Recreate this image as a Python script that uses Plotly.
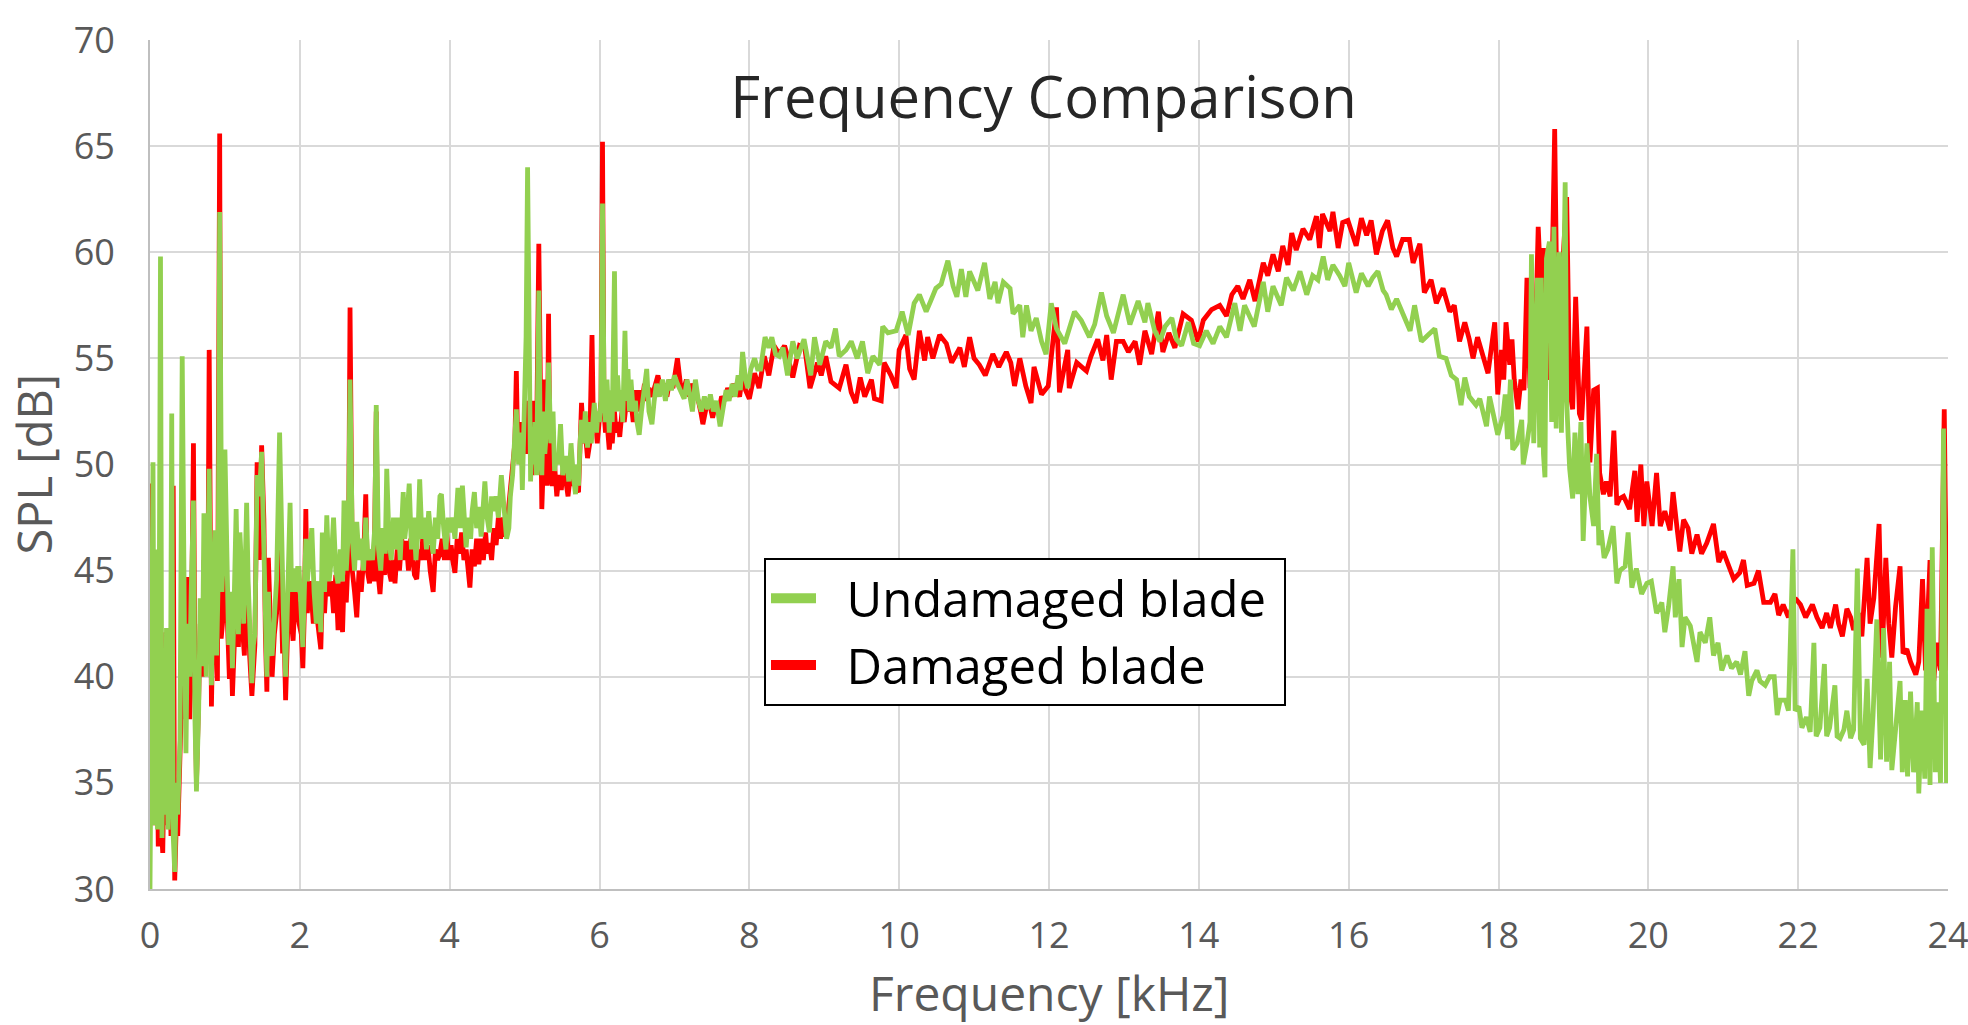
import plotly.graph_objects as go

# ---------------- data: (frequency kHz, SPL dB) ----------------
undamaged_0_2 = [
    (0.00, 30.0), (0.02, 44.0), (0.04, 50.1), (0.06, 33.0), (0.08, 46.0), (0.10, 32.8), (0.12, 40.0),
    (0.14, 59.8), (0.16, 32.4), (0.18, 41.0), (0.20, 33.5), (0.22, 42.3), (0.24, 32.8), (0.27, 36.0),
    (0.29, 52.4), (0.31, 32.5), (0.33, 30.8), (0.35, 35.0), (0.37, 33.5), (0.40, 37.0), (0.43, 55.1),
    (0.46, 42.0), (0.48, 36.4), (0.50, 42.5), (0.53, 40.0), (0.55, 44.0), (0.58, 48.3), (0.60, 38.0),
    (0.62, 34.6), (0.65, 38.5), (0.67, 43.7), (0.70, 40.5), (0.72, 47.7), (0.75, 40.0), (0.77, 44.0),
    (0.79, 49.8), (0.82, 39.6), (0.84, 44.0), (0.87, 46.9), (0.89, 41.0), (0.91, 44.5), (0.93, 61.9),
    (0.96, 44.0), (0.98, 46.0), (1.00, 50.7), (1.03, 43.8), (1.05, 41.5), (1.08, 44.0), (1.10, 40.4),
    (1.12, 43.0), (1.15, 47.9), (1.18, 42.0), (1.20, 46.8), (1.23, 44.5), (1.25, 42.5), (1.27, 45.0),
    (1.29, 48.2), (1.31, 44.5), (1.33, 42.3), (1.36, 39.7), (1.38, 41.5), (1.40, 42.0), (1.43, 49.5),
    (1.46, 48.5), (1.49, 50.6), (1.52, 46.0), (1.54, 43.0), (1.56, 40.0), (1.58, 44.0), (1.60, 41.4),
    (1.63, 41.0), (1.66, 43.0), (1.69, 44.6), (1.73, 51.5), (1.76, 45.0), (1.78, 43.0), (1.81, 40.0),
    (1.84, 43.5), (1.87, 48.2), (1.89, 44.0), (1.91, 45.1), (1.94, 44.0), (1.97, 45.1), (1.99, 45.1),
]
undamaged_2_5 = [
    (2.02, 43.0), (2.04, 41.4), (2.06, 44.0), (2.08, 46.5), (2.10, 44.5), (2.13, 46.0), (2.16, 47.0),
    (2.19, 44.0), (2.22, 42.5), (2.25, 44.5), (2.28, 42.1), (2.30, 46.8), (2.33, 44.0), (2.36, 47.6),
    (2.39, 44.5), (2.42, 45.5), (2.45, 47.5), (2.48, 45.0), (2.51, 44.4), (2.54, 46.0), (2.57, 44.5),
    (2.59, 48.3), (2.62, 45.0), (2.65, 47.0), (2.67, 54.0), (2.70, 46.5), (2.73, 45.0), (2.76, 47.3),
    (2.79, 45.5), (2.82, 46.5), (2.85, 45.0), (2.88, 47.5), (2.91, 45.5), (2.94, 46.0), (2.97, 45.5),
    (3.00, 47.0), (3.02, 52.8), (3.05, 46.0), (3.08, 45.0), (3.11, 47.0), (3.14, 45.8), (3.16, 49.8),
    (3.19, 46.5), (3.22, 45.5), (3.25, 47.5), (3.28, 46.0), (3.31, 47.5), (3.34, 45.5), (3.38, 48.7),
    (3.40, 46.5), (3.43, 47.5), (3.46, 49.1), (3.49, 46.0), (3.52, 47.5), (3.55, 45.5), (3.58, 47.0),
    (3.60, 49.3), (3.63, 46.5), (3.66, 47.5), (3.69, 46.0), (3.72, 47.8), (3.75, 46.5), (3.78, 45.8),
    (3.81, 47.5), (3.84, 46.5), (3.87, 48.5), (3.89, 48.6), (3.92, 47.0), (3.95, 46.0), (3.98, 47.5),
    (4.01, 46.8), (4.04, 47.5), (4.07, 46.5), (4.11, 48.9), (4.14, 47.0), (4.17, 49.0), (4.20, 47.5),
    (4.22, 46.1), (4.25, 47.5), (4.28, 46.5), (4.30, 47.8), (4.33, 48.7), (4.36, 47.0), (4.39, 48.0),
    (4.42, 46.6), (4.45, 48.0), (4.47, 49.2), (4.50, 47.5), (4.53, 46.8), (4.56, 48.5), (4.59, 47.8),
    (4.62, 48.5), (4.65, 47.5), (4.69, 49.5), (4.72, 48.0), (4.74, 46.8), (4.76, 46.5), (4.79, 47.0),
    (4.81, 48.5), (4.84, 49.5), (4.86, 51.0), (4.89, 52.6), (4.92, 50.0), (4.95, 51.5), (4.97, 48.8),
]
undamaged_5_8 = [
    (5.00, 53.0), (5.02, 56.0), (5.04, 64.0), (5.06, 52.0), (5.08, 49.2), (5.10, 51.5), (5.12, 50.0),
    (5.14, 52.0), (5.16, 49.5), (5.19, 58.2), (5.21, 50.5), (5.23, 49.5), (5.25, 52.5), (5.27, 50.5),
    (5.30, 52.0), (5.32, 54.8), (5.35, 51.0), (5.38, 52.5), (5.40, 49.7), (5.43, 50.5), (5.45, 50.0),
    (5.48, 51.9), (5.51, 49.5), (5.53, 50.0), (5.56, 50.4), (5.59, 49.2), (5.62, 51.0), (5.65, 49.5),
    (5.68, 48.6), (5.70, 50.0), (5.72, 49.0), (5.74, 51.0), (5.76, 52.1), (5.79, 51.0), (5.81, 52.5),
    (5.84, 50.8), (5.86, 52.0), (5.89, 51.0), (5.91, 52.3), (5.93, 52.9), (5.96, 51.5), (5.98, 52.5),
    (6.00, 52.0), (6.02, 53.0), (6.04, 62.3), (6.06, 53.5), (6.08, 52.0), (6.10, 54.0), (6.13, 51.5),
    (6.15, 53.5), (6.17, 52.0), (6.20, 59.1), (6.22, 52.5), (6.24, 54.2), (6.27, 52.5), (6.29, 53.5),
    (6.31, 52.0), (6.34, 56.3), (6.36, 53.0), (6.38, 54.5), (6.40, 52.5), (6.42, 54.0), (6.45, 52.5),
    (6.48, 53.0), (6.50, 52.0), (6.53, 51.4), (6.56, 52.5), (6.60, 53.5), (6.63, 54.5), (6.66, 52.5),
    (6.70, 51.9), (6.73, 53.0), (6.76, 53.8), (6.80, 53.2), (6.84, 54.0), (6.88, 53.0), (6.92, 54.0),
    (6.96, 53.5), (7.00, 54.2), (7.04, 53.8), (7.08, 53.5), (7.13, 53.1), (7.17, 54.0), (7.21, 53.0),
    (7.24, 52.5), (7.28, 54.0), (7.32, 53.0), (7.36, 52.5), (7.40, 53.2), (7.44, 52.6), (7.48, 53.3),
    (7.52, 52.5), (7.56, 53.0), (7.61, 51.8), (7.65, 52.8), (7.69, 53.5), (7.73, 53.0), (7.77, 53.8),
    (7.81, 53.2), (7.85, 54.2), (7.88, 53.5), (7.91, 55.3), (7.95, 54.0), (7.98, 53.6),
]
undamaged_8_14 = [
    (8.02, 54.5), (8.07, 55.0), (8.11, 54.5), (8.15, 54.5), (8.21, 56.0), (8.26, 55.5), (8.30, 56.0),
    (8.35, 55.2), (8.40, 55.1), (8.45, 55.5), (8.51, 54.2), (8.58, 55.8), (8.64, 55.0), (8.73, 55.9),
    (8.82, 54.2), (8.87, 56.0), (8.94, 54.7), (9.02, 55.8), (9.09, 55.5), (9.15, 56.4), (9.20, 55.1),
    (9.29, 55.4), (9.36, 55.8), (9.44, 55.0), (9.51, 55.8), (9.58, 54.3), (9.65, 55.1), (9.74, 54.7),
    (9.78, 56.5), (9.85, 56.2), (9.96, 56.3), (10.04, 57.2), (10.12, 56.1), (10.20, 57.6), (10.27, 58.0),
    (10.36, 57.2), (10.42, 57.7), (10.49, 58.3), (10.56, 58.5), (10.65, 59.6), (10.72, 58.4), (10.77, 57.9),
    (10.83, 59.2), (10.89, 57.9), (10.94, 59.1), (11.05, 58.2), (11.14, 59.5), (11.21, 57.8), (11.28, 58.6),
    (11.32, 57.6), (11.39, 58.6), (11.48, 58.3), (11.52, 57.1), (11.61, 57.5), (11.65, 56.0), (11.70, 57.5),
    (11.76, 56.3), (11.83, 56.9), (11.90, 55.8), (11.96, 55.2), (12.03, 57.6), (12.10, 56.4), (12.21, 55.7),
    (12.28, 56.5), (12.34, 57.2), (12.43, 56.8), (12.54, 56.0), (12.61, 56.6), (12.70, 58.1), (12.77, 57.0),
    (12.86, 56.2), (12.99, 58.0), (13.08, 56.6), (13.19, 57.7), (13.28, 56.7), (13.32, 57.6), (13.41, 56.3),
    (13.48, 55.8), (13.55, 56.5), (13.64, 56.9), (13.70, 55.9), (13.77, 55.6), (13.86, 56.7), (13.93, 55.7),
]
undamaged_14_18 = [
    (14.01, 55.6), (14.10, 56.3), (14.19, 55.7), (14.28, 56.5), (14.37, 56.0), (14.48, 57.6), (14.55, 56.3),
    (14.61, 57.5), (14.68, 57.0), (14.74, 56.5), (14.86, 58.6), (14.92, 57.2), (14.99, 58.4), (15.10, 57.5),
    (15.17, 58.8), (15.26, 58.2), (15.35, 59.1), (15.44, 58.0), (15.52, 58.9), (15.59, 58.7), (15.66, 59.8),
    (15.72, 58.7), (15.79, 59.4), (15.88, 58.9), (15.95, 58.4), (16.00, 59.5), (16.10, 58.1), (16.17, 59.0),
    (16.26, 58.4), (16.32, 58.8), (16.39, 59.1), (16.46, 58.2), (16.50, 58.0), (16.57, 57.3), (16.64, 57.8),
    (16.73, 57.0), (16.82, 56.3), (16.88, 57.5), (16.97, 55.8), (17.06, 56.1), (17.15, 56.4), (17.21, 55.1),
    (17.30, 55.0), (17.37, 54.2), (17.44, 54.0), (17.50, 52.8), (17.55, 54.1), (17.61, 53.2), (17.70, 52.8),
    (17.75, 53.1), (17.84, 51.8), (17.88, 53.2), (17.99, 51.4),
]
undamaged_18_21 = [
    (18.06, 52.3), (18.09, 53.3), (18.12, 51.2), (18.16, 54.0), (18.19, 50.7), (18.25, 51.0), (18.31, 52.1),
    (18.33, 50.0), (18.38, 51.0), (18.42, 52.0), (18.44, 59.9), (18.47, 51.0), (18.52, 58.8), (18.55, 50.8),
    (18.57, 58.8), (18.60, 50.5), (18.62, 49.4), (18.64, 59.7), (18.68, 60.5), (18.71, 52.0), (18.74, 61.2),
    (18.77, 51.7), (18.81, 60.0), (18.84, 51.5), (18.89, 63.3), (18.91, 53.0), (18.93, 51.3), (18.95, 49.8),
    (18.99, 48.4), (19.02, 51.5), (19.06, 48.6), (19.10, 52.0), (19.13, 46.4), (19.18, 51.0), (19.22, 48.5),
    (19.27, 47.1), (19.31, 50.5), (19.34, 46.2), (19.37, 46.9), (19.41, 45.6), (19.46, 46.0), (19.53, 47.1),
    (19.58, 44.4), (19.62, 45.0), (19.69, 45.2), (19.73, 46.8), (19.78, 44.2), (19.84, 45.1), (19.91, 43.9),
    (19.98, 44.4), (20.04, 44.5), (20.11, 43.0), (20.18, 43.5), (20.22, 42.1), (20.27, 43.3), (20.33, 45.2),
    (20.36, 42.8), (20.41, 44.6), (20.45, 41.4), (20.49, 42.8), (20.56, 42.4), (20.60, 41.6), (20.65, 40.7),
    (20.69, 42.1), (20.76, 41.6), (20.82, 42.8), (20.87, 41.0), (20.93, 41.6), (20.98, 40.3),
]
undamaged_21_24 = [
    (21.05, 41.0), (21.11, 40.4), (21.18, 40.7), (21.23, 40.1), (21.29, 41.2), (21.34, 39.1), (21.38, 39.8),
    (21.45, 40.3), (21.49, 39.8), (21.56, 39.6), (21.62, 40.0), (21.68, 40.0), (21.72, 38.2), (21.76, 38.9),
    (21.83, 38.9), (21.87, 38.4), (21.93, 46.0), (21.96, 38.4), (22.01, 38.6), (22.05, 37.6), (22.11, 38.1),
    (22.16, 37.4), (22.21, 41.6), (22.24, 37.2), (22.29, 37.6), (22.35, 40.6), (22.38, 37.2), (22.42, 37.6),
    (22.49, 39.6), (22.52, 37.2), (22.56, 37.1), (22.61, 37.5), (22.65, 38.4), (22.70, 37.1), (22.74, 37.5),
    (22.79, 45.1), (22.83, 37.1), (22.88, 36.8), (22.92, 39.9), (22.96, 35.7), (23.00, 38.2), (23.05, 42.7),
    (23.10, 36.1), (23.14, 42.3), (23.18, 36.0), (23.22, 40.7), (23.25, 35.6), (23.30, 37.8), (23.36, 39.8),
    (23.39, 35.5), (23.43, 38.9), (23.46, 35.3), (23.50, 39.3), (23.54, 35.5), (23.59, 38.8), (23.61, 34.5),
    (23.65, 38.4), (23.69, 35.2), (23.72, 43.2), (23.76, 34.9), (23.79, 46.1), (23.83, 35.5), (23.86, 38.8),
    (23.90, 35.0), (23.94, 51.7), (23.98, 35.0), (24.00, 37.1),
]

damaged_0_2 = [
    (0.00, 33.0), (0.01, 49.1), (0.03, 35.0), (0.05, 45.0), (0.07, 33.0), (0.09, 40.0), (0.11, 32.0),
    (0.13, 42.0), (0.15, 33.0), (0.17, 31.7), (0.19, 36.0), (0.21, 42.1), (0.23, 33.0), (0.25, 38.0),
    (0.28, 32.5), (0.30, 40.0), (0.31, 49.0), (0.33, 30.4), (0.35, 33.0), (0.37, 32.5), (0.39, 35.0),
    (0.41, 37.0), (0.43, 40.0), (0.46, 38.0), (0.48, 40.0), (0.50, 44.7), (0.53, 38.0), (0.55, 41.0),
    (0.58, 51.0), (0.60, 40.0), (0.62, 35.0), (0.65, 39.0), (0.67, 42.5), (0.70, 40.0), (0.72, 45.5),
    (0.75, 40.8), (0.77, 42.0), (0.79, 55.4), (0.82, 38.6), (0.84, 42.5), (0.87, 44.0), (0.90, 39.8),
    (0.93, 65.6), (0.95, 41.8), (0.98, 43.0), (1.00, 46.0), (1.03, 42.0), (1.06, 39.9), (1.08, 42.0),
    (1.10, 39.1), (1.13, 42.0), (1.15, 45.0), (1.18, 41.4), (1.20, 44.0), (1.23, 42.5), (1.26, 41.0),
    (1.29, 46.0), (1.31, 43.0), (1.33, 41.0), (1.36, 39.1), (1.38, 40.5), (1.40, 41.5), (1.43, 50.1),
    (1.46, 45.5), (1.49, 50.9), (1.52, 47.4), (1.54, 42.0), (1.56, 39.3), (1.58, 45.6), (1.61, 41.0),
    (1.63, 40.0), (1.66, 42.0), (1.69, 43.0), (1.73, 47.0), (1.75, 43.5), (1.77, 41.1), (1.79, 42.0),
    (1.81, 38.9), (1.84, 42.5), (1.87, 45.0), (1.89, 42.5), (1.91, 41.7), (1.94, 44.0), (1.97, 43.0),
    (1.99, 42.5),
]
damaged_2_5 = [
    (2.02, 42.0), (2.04, 40.4), (2.06, 43.0), (2.08, 47.9), (2.10, 43.0), (2.13, 44.5), (2.16, 43.5),
    (2.18, 42.5), (2.21, 44.0), (2.24, 42.5), (2.28, 41.3), (2.30, 44.0), (2.33, 43.0), (2.36, 45.0),
    (2.39, 43.8), (2.42, 44.5), (2.45, 43.0), (2.48, 44.8), (2.51, 42.2), (2.54, 44.5), (2.57, 42.1),
    (2.59, 44.5), (2.62, 43.5), (2.65, 46.0), (2.67, 57.4), (2.70, 45.0), (2.73, 44.0), (2.76, 42.8),
    (2.79, 45.0), (2.82, 44.0), (2.85, 45.5), (2.88, 48.6), (2.90, 45.0), (2.93, 44.4), (2.96, 45.5),
    (2.99, 44.5), (3.02, 52.5), (3.04, 45.0), (3.07, 43.9), (3.10, 45.5), (3.13, 44.8), (3.16, 47.0),
    (3.19, 45.0), (3.22, 44.5), (3.25, 45.5), (3.27, 44.4), (3.30, 46.0), (3.33, 45.0), (3.36, 46.5),
    (3.39, 45.5), (3.42, 46.4), (3.45, 45.0), (3.48, 46.5), (3.51, 45.5), (3.53, 44.8), (3.56, 44.6),
    (3.59, 46.0), (3.62, 45.5), (3.65, 47.0), (3.68, 45.5), (3.71, 46.2), (3.74, 45.0), (3.76, 44.5),
    (3.78, 44.0), (3.81, 46.0), (3.84, 45.5), (3.87, 45.8), (3.90, 46.5), (3.93, 45.5), (3.96, 46.8),
    (3.99, 45.5), (4.02, 46.2), (4.04, 45.5), (4.07, 44.9), (4.10, 46.5), (4.13, 45.8), (4.16, 46.8),
    (4.19, 45.5), (4.22, 46.0), (4.25, 45.0), (4.27, 44.2), (4.30, 46.0), (4.33, 45.2), (4.36, 46.5),
    (4.39, 45.3), (4.42, 46.5), (4.45, 45.5), (4.48, 46.8), (4.50, 45.8), (4.53, 46.3), (4.56, 45.5),
    (4.59, 47.0), (4.62, 46.2), (4.65, 47.5), (4.68, 46.5), (4.71, 47.5), (4.74, 46.6), (4.76, 47.0),
    (4.79, 48.0), (4.82, 49.0), (4.85, 50.0), (4.87, 51.0), (4.89, 54.4), (4.91, 50.5), (4.94, 52.0),
    (4.96, 50.0), (4.98, 52.0),
]
damaged_5_8 = [
    (5.00, 50.5), (5.02, 52.0), (5.04, 53.0), (5.06, 50.5), (5.08, 51.0), (5.10, 49.5), (5.12, 53.0),
    (5.14, 50.0), (5.16, 51.0), (5.19, 60.4), (5.21, 50.0), (5.23, 47.9), (5.25, 50.0), (5.27, 54.0),
    (5.30, 49.0), (5.32, 57.1), (5.34, 49.5), (5.37, 49.0), (5.40, 50.0), (5.43, 48.5), (5.46, 49.5),
    (5.49, 48.8), (5.52, 50.0), (5.55, 49.0), (5.58, 48.5), (5.61, 49.5), (5.64, 49.0), (5.67, 49.8),
    (5.70, 48.8), (5.72, 48.7), (5.74, 50.5), (5.76, 52.9), (5.79, 51.0), (5.81, 51.5), (5.84, 50.3),
    (5.87, 51.0), (5.90, 56.1), (5.92, 51.5), (5.95, 52.0), (5.97, 51.0), (6.00, 52.2), (6.02, 53.0),
    (6.04, 65.2), (6.06, 52.5), (6.08, 51.5), (6.10, 52.0), (6.13, 50.7), (6.15, 51.5), (6.17, 51.0),
    (6.20, 52.5), (6.22, 51.5), (6.25, 52.0), (6.27, 51.3), (6.30, 52.5), (6.33, 52.0), (6.36, 53.0),
    (6.39, 52.5), (6.42, 53.0), (6.45, 52.0), (6.48, 53.5), (6.51, 52.5), (6.54, 53.5), (6.57, 53.0),
    (6.60, 53.8), (6.63, 53.0), (6.66, 53.6), (6.70, 53.2), (6.74, 53.8), (6.78, 54.2), (6.82, 53.5),
    (6.86, 53.8), (6.90, 53.2), (6.94, 54.0), (6.98, 53.6), (7.01, 54.4), (7.04, 55.0), (7.08, 53.8),
    (7.12, 53.5), (7.16, 54.0), (7.20, 53.2), (7.24, 53.8), (7.28, 53.4), (7.32, 53.0), (7.35, 52.5),
    (7.38, 51.9), (7.42, 52.6), (7.46, 53.0), (7.51, 52.2), (7.55, 52.8), (7.59, 52.5), (7.63, 53.2),
    (7.67, 53.0), (7.71, 53.6), (7.75, 53.2), (7.79, 53.8), (7.83, 53.5), (7.87, 53.2), (7.91, 54.2),
    (7.95, 53.5), (8.00, 53.1),
]
damaged_8_14 = [
    (8.07, 54.3), (8.13, 53.6), (8.20, 55.1), (8.26, 54.2), (8.33, 55.6), (8.40, 55.2), (8.47, 55.6),
    (8.52, 55.0), (8.58, 54.1), (8.67, 55.6), (8.74, 55.5), (8.81, 53.6), (8.91, 54.8), (8.96, 54.2),
    (9.02, 55.1), (9.09, 53.9), (9.20, 53.6), (9.29, 54.7), (9.36, 53.4), (9.42, 52.9), (9.48, 54.1),
    (9.54, 53.2), (9.63, 54.0), (9.67, 53.1), (9.76, 53.0), (9.80, 54.8), (9.89, 54.2), (9.96, 53.6),
    (10.00, 55.4), (10.09, 56.1), (10.14, 54.5), (10.20, 54.0), (10.27, 56.3), (10.34, 54.9), (10.38, 56.0),
    (10.45, 55.0), (10.54, 56.1), (10.63, 55.7), (10.70, 54.8), (10.81, 55.5), (10.87, 54.6), (10.94, 56.0),
    (11.00, 55.0), (11.07, 54.7), (11.15, 54.2), (11.25, 55.2), (11.33, 54.6), (11.43, 55.3), (11.49, 54.8),
    (11.54, 53.7), (11.61, 55.0), (11.69, 53.7), (11.76, 52.9), (11.80, 54.6), (11.90, 53.3), (11.99, 53.7),
    (12.03, 55.0), (12.10, 57.4), (12.14, 53.4), (12.25, 55.4), (12.27, 53.6), (12.37, 54.8), (12.50, 54.4),
    (12.56, 55.1), (12.65, 55.9), (12.72, 54.9), (12.77, 56.1), (12.83, 54.0), (12.90, 55.8), (12.99, 55.8),
    (13.06, 55.3), (13.15, 55.8), (13.21, 54.7), (13.28, 56.3), (13.37, 55.2), (13.46, 57.2), (13.52, 55.3),
    (13.60, 56.2), (13.68, 55.5), (13.79, 57.1), (13.90, 56.8), (13.99, 55.8),
]
damaged_14_18 = [
    (14.06, 56.8), (14.17, 57.3), (14.28, 57.5), (14.37, 57.0), (14.44, 58.0), (14.52, 58.4), (14.59, 57.8),
    (14.68, 58.7), (14.75, 57.7), (14.86, 59.5), (14.92, 58.9), (14.99, 59.9), (15.06, 59.1), (15.12, 60.3),
    (15.19, 59.4), (15.24, 60.9), (15.30, 60.1), (15.39, 61.1), (15.48, 60.6), (15.57, 61.7), (15.61, 60.2),
    (15.65, 61.8), (15.75, 61.0), (15.79, 61.9), (15.86, 60.2), (15.92, 61.4), (15.99, 61.5), (16.10, 60.3),
    (16.17, 61.6), (16.24, 60.8), (16.30, 61.5), (16.37, 59.9), (16.45, 61.0), (16.52, 61.5), (16.59, 60.2),
    (16.64, 59.8), (16.72, 60.6), (16.81, 60.6), (16.86, 59.5), (16.95, 60.4), (17.01, 58.1), (17.10, 58.7),
    (17.17, 57.6), (17.26, 58.3), (17.35, 57.2), (17.41, 57.5), (17.48, 55.8), (17.55, 56.7), (17.61, 55.9),
    (17.66, 55.0), (17.72, 56.0), (17.79, 55.1), (17.86, 54.3), (17.95, 56.7), (17.99, 53.3),
]
damaged_18_21 = [
    (18.04, 55.4), (18.07, 54.0), (18.10, 56.7), (18.15, 54.7), (18.18, 55.9), (18.21, 54.0), (18.26, 52.6),
    (18.30, 54.0), (18.34, 53.5), (18.38, 58.8), (18.42, 53.6), (18.48, 54.0), (18.53, 61.2), (18.57, 58.0),
    (18.60, 60.2), (18.64, 55.0), (18.69, 54.0), (18.75, 65.8), (18.79, 54.5), (18.83, 57.8), (18.91, 62.6),
    (18.95, 53.5), (18.99, 52.6), (19.03, 57.9), (19.08, 52.4), (19.11, 52.1), (19.18, 56.5), (19.22, 50.1),
    (19.27, 53.5), (19.32, 53.6), (19.35, 49.6), (19.40, 48.6), (19.44, 49.2), (19.49, 48.5), (19.54, 51.6),
    (19.58, 48.1), (19.62, 48.4), (19.67, 48.5), (19.75, 47.9), (19.82, 49.7), (19.85, 47.3), (19.90, 50.0),
    (19.94, 47.1), (19.98, 49.2), (20.05, 47.1), (20.11, 49.6), (20.16, 47.1), (20.22, 47.8), (20.29, 46.9),
    (20.33, 48.7), (20.38, 47.1), (20.42, 45.9), (20.47, 47.4), (20.53, 47.0), (20.58, 45.8), (20.65, 46.7),
    (20.71, 45.8), (20.78, 46.3), (20.87, 47.2), (20.94, 45.4),
]
damaged_21_24 = [
    (21.00, 45.9), (21.07, 45.3), (21.14, 44.6), (21.22, 44.9), (21.27, 45.5), (21.32, 44.3), (21.41, 44.4),
    (21.47, 45.0), (21.54, 43.5), (21.63, 43.5), (21.69, 43.9), (21.74, 42.9), (21.80, 43.4), (21.87, 42.8),
    (21.96, 43.7), (22.03, 43.4), (22.10, 42.8), (22.19, 43.4), (22.25, 42.8), (22.32, 42.3), (22.38, 43.0),
    (22.43, 42.3), (22.50, 43.4), (22.54, 42.5), (22.59, 41.9), (22.65, 43.2), (22.70, 42.8), (22.74, 42.2),
    (22.81, 43.0), (22.85, 41.9), (22.92, 45.6), (22.96, 42.5), (23.01, 43.7), (23.08, 47.2), (23.12, 40.9),
    (23.17, 45.6), (23.21, 42.5), (23.25, 40.9), (23.30, 43.3), (23.36, 45.2), (23.40, 41.1), (23.45, 41.3),
    (23.50, 40.7), (23.57, 40.1), (23.61, 40.7), (23.66, 44.6), (23.70, 40.3), (23.76, 45.5), (23.81, 39.8),
    (23.85, 41.6), (23.90, 40.3), (23.95, 52.6), (23.99, 40.3), (24.00, 41.0),
]

x_ticks = [0, 2, 4, 6, 8, 10, 12, 14, 16, 18, 20, 22, 24]
y_ticks = [30, 35, 40, 45, 50, 55, 60, 65, 70]
series_names = ["Undamaged blade", "Damaged blade"]
title_text = "Frequency Comparison"
x_title = "Frequency [kHz]"
y_title = "SPL [dB]"

# ---------------- assemble ----------------
undamaged = (undamaged_0_2 + undamaged_2_5 + undamaged_5_8 + undamaged_8_14
             + undamaged_14_18 + undamaged_18_21 + undamaged_21_24)
damaged = (damaged_0_2 + damaged_2_5 + damaged_5_8 + damaged_8_14
           + damaged_14_18 + damaged_18_21 + damaged_21_24)

GREEN = "#92D050"
RED = "#FF0000"
LW = 4.8
FONT = "Open Sans"
NB = "\u00a0"

fig = go.Figure()
fig.add_trace(go.Scatter(x=[p[0] for p in damaged], y=[p[1] for p in damaged],
                         mode="lines", line=dict(color=RED, width=LW),
                         name=series_names[1], showlegend=False))
fig.add_trace(go.Scatter(x=[p[0] for p in undamaged], y=[p[1] for p in undamaged],
                         mode="lines", line=dict(color=GREEN, width=LW),
                         name=series_names[0], showlegend=False))
# legend-only entries (thicker key)
fig.add_trace(go.Scatter(x=[None], y=[None], mode="lines",
                         line=dict(color=GREEN, width=10), name=NB * 2 + series_names[0] + NB))
fig.add_trace(go.Scatter(x=[None], y=[None], mode="lines",
                         line=dict(color=RED, width=10), name=NB * 2 + series_names[1]))

L, R, T, B = 150, 20, 40, 136
W, H = 1968, 1025
PH = H - T - B
PW = W - L - R

fig.update_layout(
    width=W, height=H,
    margin=dict(l=L, r=R, t=T, b=B, autoexpand=False),
    paper_bgcolor="white", plot_bgcolor="white",
    font=dict(family=FONT, color="#595959"),
    title=dict(text=title_text, x=0.497, xref="paper", xanchor="center",
               y=1 - 98 / H, yref="container", yanchor="middle",
               font=dict(size=58, color="#262626", family=FONT)),
    showlegend=True,
    legend=dict(x=(764 - L) / PW, y=(H - B - 558) / PH, xanchor="left", yanchor="top",
                bgcolor="white", bordercolor="#000000", borderwidth=2,
                font=dict(size=49, color="#000000", family=FONT),
                tracegroupgap=0, itemwidth=45),
    xaxis=dict(range=[0, 24], tickmode="array", tickvals=x_ticks,
               showgrid=True, gridcolor="#D9D9D9", gridwidth=2,
               showline=True, linecolor="#BFBFBF", linewidth=2,
               zeroline=False, ticks="", ticklabelstandoff=14,
               ticklabeloverflow="allow", automargin=False,
               tickfont=dict(size=36, color="#595959", family=FONT)),
    yaxis=dict(range=[30, 70], tickmode="array", tickvals=y_ticks,
               showgrid=True, gridcolor="#D9D9D9", gridwidth=2,
               showline=True, linecolor="#BFBFBF", linewidth=2,
               zeroline=False, ticks="", ticklabelstandoff=26, automargin=False,
               tickfont=dict(size=36, color="#595959", family=FONT)),
    annotations=[
        dict(text=x_title, xref="paper", yref="paper", x=0.5, y=-(992 - (H - B)) / PH,
             xanchor="center", yanchor="middle", showarrow=False,
             font=dict(size=48, color="#595959", family=FONT)),
        dict(text=y_title, xref="paper", yref="paper", x=(33 - L) / PW, y=0.5,
             xanchor="center", yanchor="middle", showarrow=False, textangle=-90,
             font=dict(size=47, color="#595959", family=FONT)),
    ],
)

fig.write_html(
    "out.html",
    config={"responsive": False, "displayModeBar": False},
    post_script="document.body.style.margin='0';document.body.style.overflow='hidden';",
)
